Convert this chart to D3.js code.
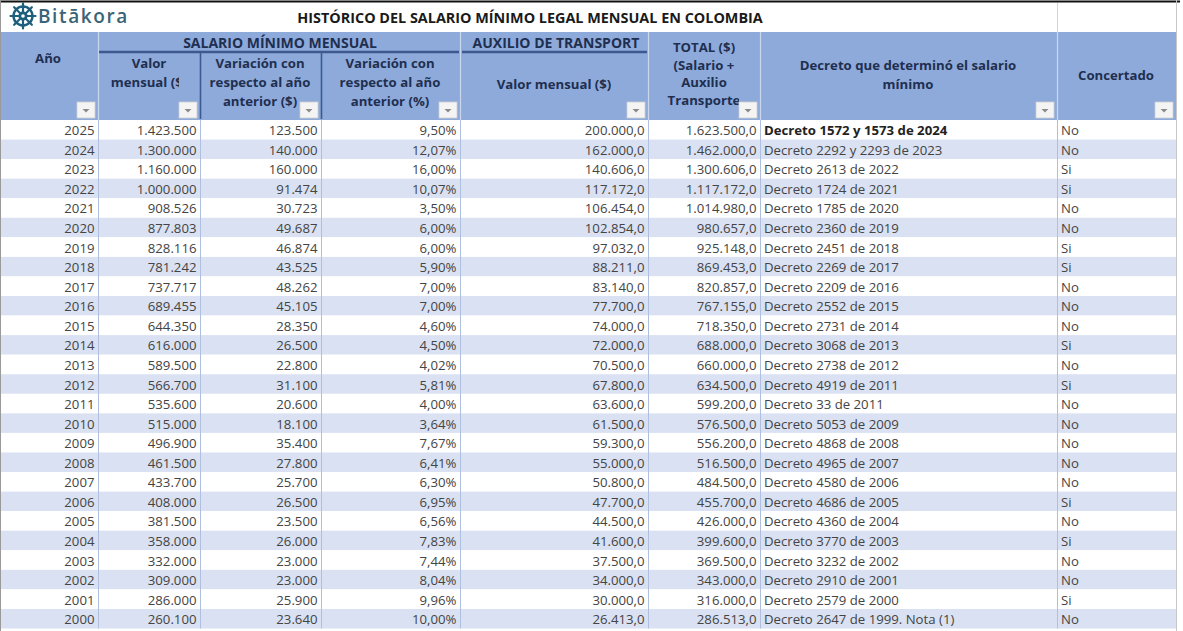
<!DOCTYPE html>
<html>
<head>
<meta charset="utf-8">
<script src="https://cdn.jsdelivr.net/npm/d3@7"></script>
<style>
  body { margin: 0; background: #fff; }
  svg { display: block; font-family: "Open Sans", sans-serif; }
</style>
</head>
<body>
<svg id="chart" width="1183" height="631"></svg>
<script>
const years = [2025, 2024, 2023, 2022, 2021, 2020, 2019, 2018, 2017, 2016, 2015, 2014, 2013,
               2012, 2011, 2010, 2009, 2008, 2007, 2006, 2005, 2004, 2003, 2002, 2001, 2000];
const salario = [1423500, 1300000, 1160000, 1000000, 908526, 877803, 828116, 781242, 737717, 689455,
                 644350, 616000, 589500, 566700, 535600, 515000, 496900, 461500, 433700, 408000,
                 381500, 358000, 332000, 309000, 286000, 260100];
const variacion = [123500, 140000, 160000, 91474, 30723, 49687, 46874, 43525, 48262, 45105,
                   28350, 26500, 22800, 31100, 20600, 18100, 35400, 27800, 25700, 26500,
                   23500, 26000, 23000, 23000, 25900, 23640];
const variacionPct = [9.50, 12.07, 16.00, 10.07, 3.50, 6.00, 6.00, 5.90, 7.00, 7.00,
                      4.60, 4.50, 4.02, 5.81, 4.00, 3.64, 7.67, 6.41, 6.30, 6.95,
                      6.56, 7.83, 7.44, 8.04, 9.96, 10.00];
const auxilio = [200000, 162000, 140606, 117172, 106454, 102854, 97032, 88211, 83140, 77700,
                 74000, 72000, 70500, 67800, 63600, 61500, 59300, 55000, 50800, 47700,
                 44500, 41600, 37500, 34000, 30000, 26413];
const total = [1623500, 1462000, 1300606, 1117172, 1014980, 980657, 925148, 869453, 820857, 767155,
               718350, 688000, 660000, 634500, 599200, 576500, 556200, 516500, 484500, 455700,
               426000, 399600, 369500, 343000, 316000, 286513];
const decretos = ["Decreto 1572 y 1573 de 2024", "Decreto 2292 y 2293 de 2023", "Decreto 2613 de 2022",
  "Decreto 1724 de 2021", "Decreto 1785 de 2020", "Decreto 2360 de 2019", "Decreto 2451 de 2018",
  "Decreto 2269 de 2017", "Decreto 2209 de 2016", "Decreto 2552 de 2015", "Decreto 2731 de 2014",
  "Decreto 3068 de 2013", "Decreto 2738 de 2012", "Decreto 4919 de 2011", "Decreto 33 de 2011",
  "Decreto 5053 de 2009", "Decreto 4868 de 2008", "Decreto 4965 de 2007", "Decreto 4580 de 2006",
  "Decreto 4686 de 2005", "Decreto 4360 de 2004", "Decreto 3770 de 2003", "Decreto 3232 de 2002",
  "Decreto 2910 de 2001", "Decreto 2579 de 2000", "Decreto 2647 de 1999. Nota (1)"];
const concertado = ["No", "No", "Si", "Si", "No", "No", "Si", "Si", "No", "No", "No", "Si", "No",
                    "Si", "No", "No", "No", "No", "No", "Si", "No", "Si", "No", "No", "Si", "No"];

const title = "HISTÓRICO DEL SALARIO MÍNIMO LEGAL MENSUAL EN COLOMBIA";

// colombian number format
const loc = d3.formatLocale({decimal: ",", thousands: ".", grouping: [3], currency: ["$", ""]});
const fInt = loc.format(",d");
const fDec = loc.format(",.1f");
const fPct = v => loc.format(".2f")(v) + "%";

// layout
const edges = [0, 98, 200, 321, 460, 648, 760, 1057, 1176];
const headTop = 32, headMid = 52, headBot = 120, tableBot = 628.5;
const headFill = "#8eaadb", bandFill = "#d9e1f2", headInk = "#1f2f4f", ink = "#444444";

const svg = d3.select("#chart");
const defs = svg.append("defs");

const y = d3.scaleBand()
    .domain(years)
    .range([headBot, tableBot]);

const rows = years.map((yr, i) => ({
  year: yr, cells: [
    {t: yr, a: "end"},
    {t: fInt(salario[i]), a: "end"},
    {t: fInt(variacion[i]), a: "end"},
    {t: fPct(variacionPct[i]), a: "end"},
    {t: fDec(auxilio[i]), a: "end"},
    {t: fDec(total[i]), a: "end"},
    {t: decretos[i], a: "start", bold: i === 0},
    {t: concertado[i], a: "start"}
  ]
}));

// title row
const logo = svg.append("g").attr("transform", "translate(23,16)");
logo.append("circle").attr("r", 9.5).attr("fill", "none").attr("stroke", "#1f5f7e").attr("stroke-width", 2.4);
logo.append("circle").attr("r", 4.6).attr("fill", "#1f5f7e");
logo.append("circle").attr("r", 1.8).attr("fill", "#fff");
d3.range(8).forEach(k => {
  const a = k * Math.PI / 4;
  logo.append("line")
      .attr("x1", Math.cos(a) * 4).attr("y1", Math.sin(a) * 4)
      .attr("x2", Math.cos(a) * 12.5).attr("y2", Math.sin(a) * 12.5)
      .attr("stroke", "#1f5f7e").attr("stroke-width", 2.2).attr("stroke-linecap", "round");
});
svg.append("text")
    .attr("x", 38).attr("y", 16)
    .attr("dominant-baseline", "central")
    .attr("font-size", 19).attr("font-weight", 600)
    .attr("letter-spacing", 1.6)
    .attr("fill", "#3b6478")
    .text("Bitākora");

svg.append("text")
    .attr("x", 530).attr("y", 17)
    .attr("text-anchor", "middle").attr("dominant-baseline", "central")
    .attr("font-size", 14.4).attr("font-weight", 700)
    .attr("fill", "#1a1a1a")
    .text(title);

// title-row box on the right
svg.append("line").attr("x1", 1057.5).attr("x2", 1057.5).attr("y1", 3).attr("y2", headTop)
    .attr("stroke", "#d4d4d4");

// header background
svg.append("rect").attr("x", 0).attr("y", headTop).attr("width", edges[8]).attr("height", headBot - headTop)
    .attr("fill", headFill);

// light dividers between top-level header cells
[98, 460, 648, 760, 1057].forEach(x => {
  svg.append("line").attr("x1", x + 0.5).attr("x2", x + 0.5).attr("y1", headTop).attr("y2", headBot)
      .attr("stroke", "#c9d6ee").attr("stroke-width", 1.2);
});
// dark group underlines and sub-column dividers
[[99, 459], [462, 647]].forEach(([a, b]) => {
  svg.append("line").attr("x1", a).attr("x2", b).attr("y1", headMid).attr("y2", headMid)
      .attr("stroke", "#3c5a8f").attr("stroke-width", 2.4);
});
[200, 321].forEach(x => {
  svg.append("line").attr("x1", x + 0.5).attr("x2", x + 0.5).attr("y1", headMid).attr("y2", headBot - 1)
      .attr("stroke", "#3c5a8f").attr("stroke-width", 1.6);
});

// the last header line of each cell is cut at its filter button
edges.slice(0, 8).forEach((x0, j) => {
  defs.append("clipPath").attr("id", "hc" + j)
    .append("rect")
      .attr("x", x0).attr("y", headTop)
      .attr("width", edges[j + 1] - 21 - x0).attr("height", headBot - headTop);
});

// header texts
const headTexts = [
  {col: 0, x: 48, lines: ["Año"], y0: 58},
  {col: 1, x: 149, lines: ["Valor", "mensual ($)"], y0: 63},
  {col: 2, x: 260, lines: ["Variación con", "respecto al año", "anterior ($)"], y0: 63},
  {col: 3, x: 390, lines: ["Variación con", "respecto al año", "anterior (%)"], y0: 63},
  {col: 4, x: 554, lines: ["Valor mensual ($)"], y0: 84},
  {col: 5, x: 704, lines: ["TOTAL ($)", "(Salario +", "Auxilio", "Transporte"], y0: 47, lh: 17.5},
  {col: 6, x: 908, lines: ["Decreto que determinó el salario", "mínimo"], y0: 65},
  {col: 7, x: 1116, lines: ["Concertado"], y0: 75},
  {x: 280, lines: ["SALARIO MÍNIMO MENSUAL"], y0: 42, fs: 14},
  {x: 556, lines: ["AUXILIO DE TRANSPORT"], y0: 42, fs: 14}
];
headTexts.forEach(h => {
  h.lines.forEach((l, k) => {
    const t = svg.append("text")
        .attr("x", h.x).attr("y", h.y0 + k * (h.lh || 19))
        .attr("text-anchor", "middle").attr("dominant-baseline", "central")
        .attr("font-size", h.fs || 13.2).attr("font-weight", 700)
        .attr("fill", headInk)
        .text(l);
    if (h.col !== undefined && k === h.lines.length - 1) t.attr("clip-path", `url(#hc${h.col})`);
  });
});

// filter drop-down buttons
edges.slice(1).forEach(x => {
  const b = svg.append("g").attr("transform", `translate(${x - 21},${headBot - 18})`);
  b.append("rect").attr("width", 18).attr("height", 16).attr("fill", "#f4f4f4")
      .attr("stroke", "#d0d0d0").attr("stroke-width", 0.8);
  b.append("path").attr("d", "M5.5,7 L12.5,7 L9,10.5 Z").attr("fill", "#8a8a8a");
});

// data rows
const rowG = svg.selectAll("g.row")
  .data(rows)
  .join("g")
    .attr("class", "row")
    .attr("transform", d => `translate(0,${y(d.year)})`);

rowG.append("rect")
    .attr("width", edges[8]).attr("height", y.bandwidth())
    .attr("fill", (d, i) => i % 2 ? bandFill : "#ffffff");

rowG.selectAll("text")
  .data(d => d.cells)
  .join("text")
    .attr("x", (c, j) => c.a === "end" ? edges[j + 1] - 3.5 : edges[j] + 4)
    .attr("y", y.bandwidth() / 2 + 0.5)
    .attr("text-anchor", c => c.a)
    .attr("dominant-baseline", "central")
    .attr("font-size", 13.2)
    .attr("font-weight", c => c.bold ? 700 : 400)
    .attr("fill", c => c.bold ? "#222" : ink)
    .text(c => c.t);

// column rules through the body
edges.slice(1, 8).forEach(x => {
  svg.append("line").attr("x1", x + 0.5).attr("x2", x + 0.5).attr("y1", headBot).attr("y2", tableBot)
      .attr("stroke", "#aebfe0").attr("stroke-width", 1);
});

// outer frame
svg.append("line").attr("x1", 0).attr("x2", 1180).attr("y1", 1.5).attr("y2", 1.5)
    .attr("stroke", "#111").attr("stroke-width", 2.2);
svg.append("line").attr("x1", 0.5).attr("x2", 0.5).attr("y1", 0).attr("y2", 631)
    .attr("stroke", "#9a9a9a");
svg.append("line").attr("x1", 1176.5).attr("x2", 1176.5).attr("y1", 0).attr("y2", 631)
    .attr("stroke", "#c8c8c8");
</script>
</body>
</html>
